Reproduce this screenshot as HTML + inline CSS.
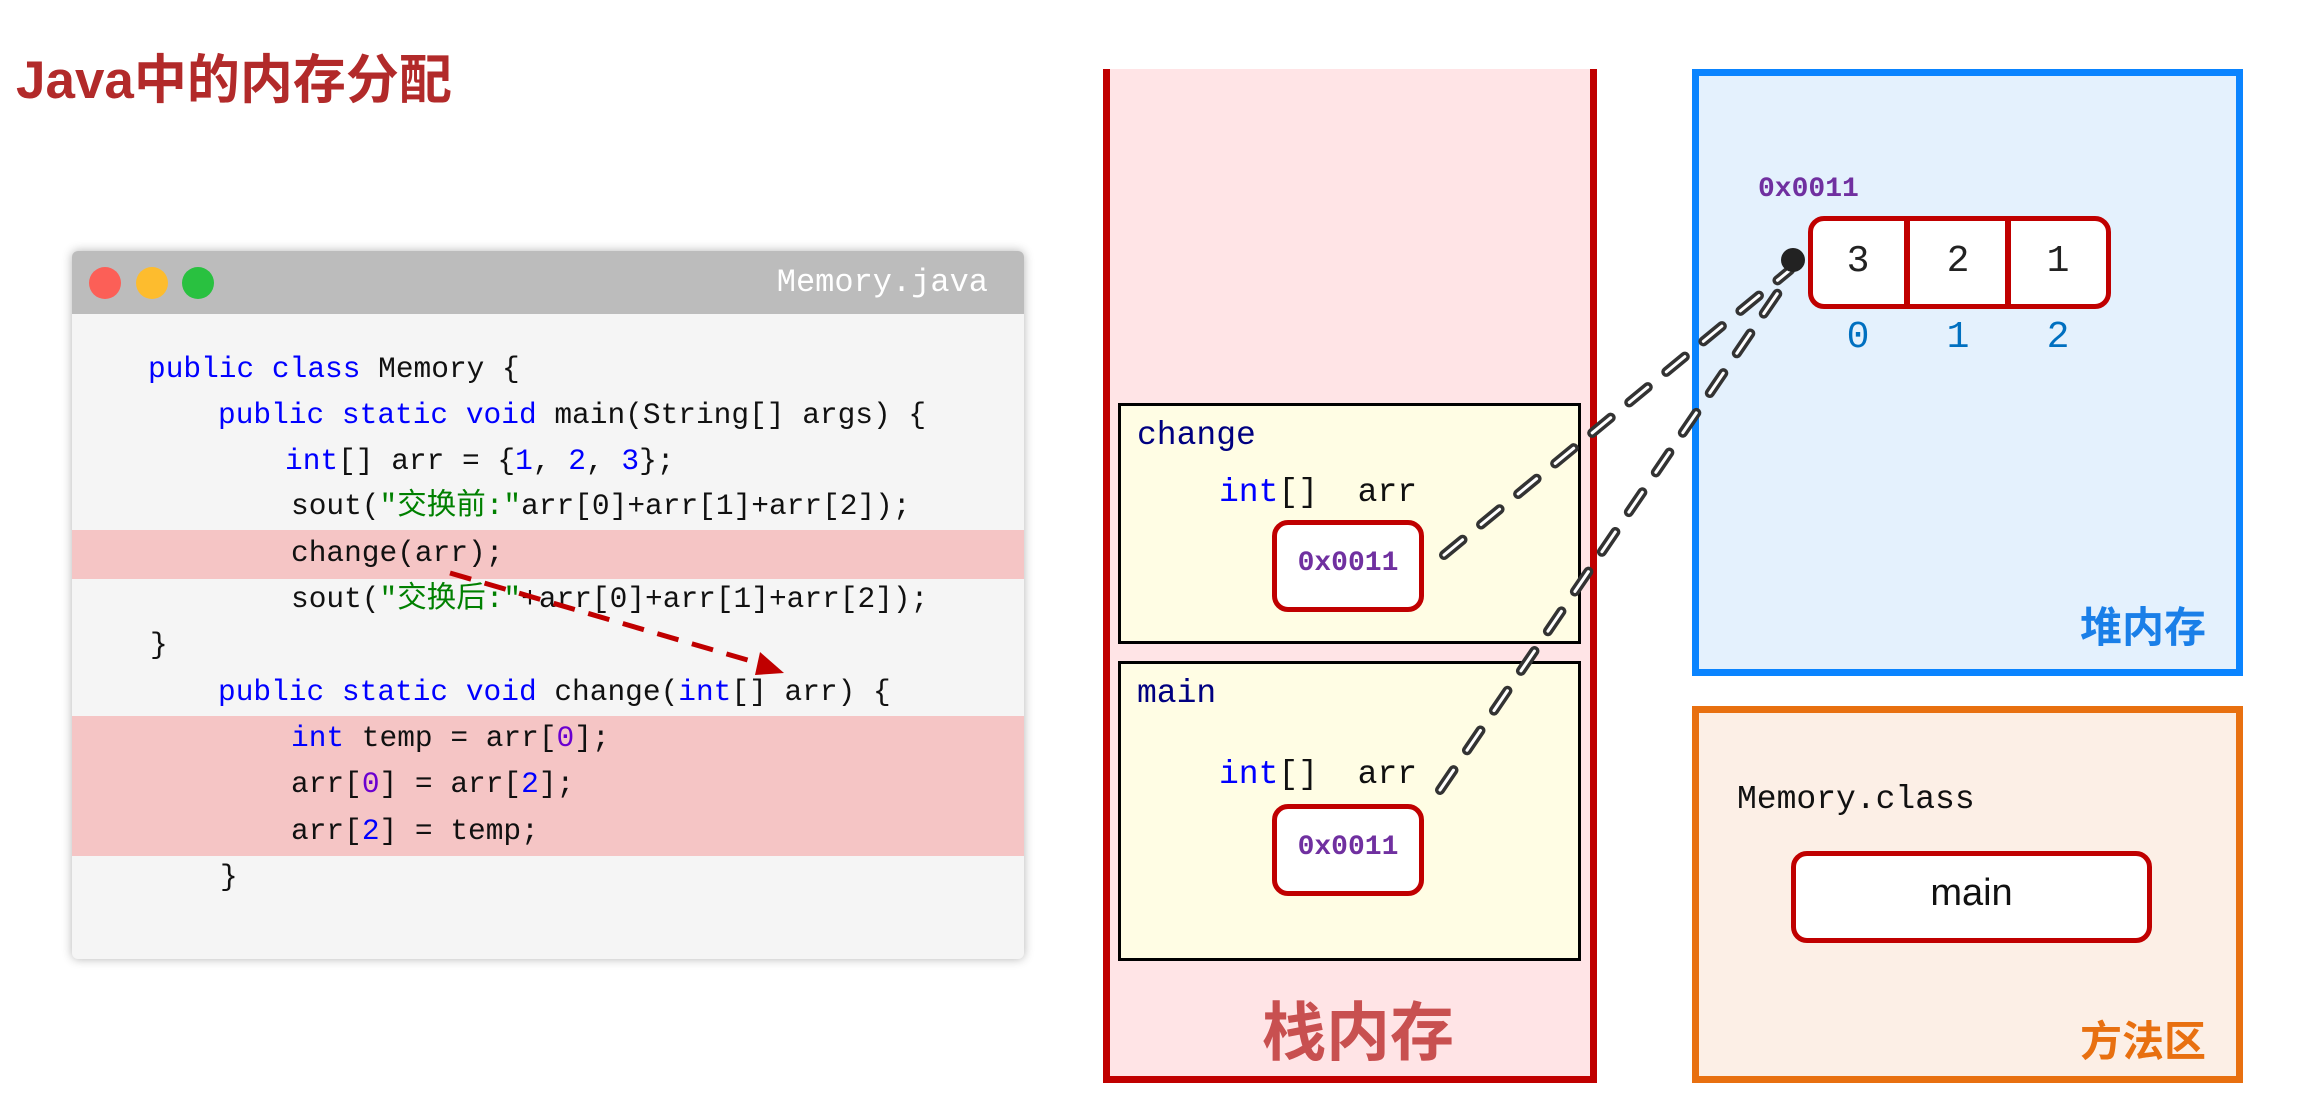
<!DOCTYPE html>
<html><head><meta charset="utf-8">
<style>
*{margin:0;padding:0;box-sizing:border-box}
body{width:2303px;height:1113px;background:#fff;position:relative;overflow:hidden;font-family:"Liberation Sans","Noto Sans CJK SC",sans-serif}
.a{position:absolute;white-space:pre}
.m{font-family:"Liberation Mono","Noto Sans CJK SC",monospace}
.k{color:#0000ff}.s{color:#008000}.p{color:#6a00d0}
.code{font-size:29.5px;color:#111;line-height:36px}
</style></head><body>
<div class="a" style="left:16px;top:38px;font-size:53px;font-weight:bold;color:#b22a2a;font-family:'Liberation Sans','Noto Sans CJK SC',sans-serif">Java中的内存分配</div>

<div class="a" style="left:72px;top:251px;width:952px;height:708px;background:#f5f5f5;box-shadow:0 0 10px rgba(0,0,0,0.3);border-radius:6px;overflow:hidden">
 <div style="position:absolute;left:0;top:0;width:952px;height:63px;background:#bcbcbc"></div>
 <div style="position:absolute;left:17px;top:16px;width:32px;height:32px;border-radius:50%;background:#fc5f57"></div>
 <div style="position:absolute;left:64px;top:16px;width:32px;height:32px;border-radius:50%;background:#fdbc2e"></div>
 <div style="position:absolute;left:110px;top:16px;width:32px;height:32px;border-radius:50%;background:#29c140"></div>
 <div class="m" style="position:absolute;right:36px;top:13px;font-size:32px;color:#fff">Memory.java</div>
 <div style="position:absolute;left:0;top:279px;width:952px;height:49px;background:#f5c5c5"></div>
 <div style="position:absolute;left:0;top:465px;width:952px;height:140px;background:#f5c5c5"></div>
</div>

<div class="a m code" style="left:148px;top:351px"><span class="k">public class</span> Memory {</div>
<div class="a m code" style="left:218px;top:397px"><span class="k">public static void</span> main(String[] args) {</div>
<div class="a m code" style="left:285px;top:443px"><span class="k">int</span>[] arr = {<span class="k">1</span>, <span class="k">2</span>, <span class="k">3</span>};</div>
<div class="a m code" style="left:291px;top:488px">sout(<span class="s">"交换前:"</span>arr[0]+arr[1]+arr[2]);</div>
<div class="a m code" style="left:291px;top:535px">change(arr);</div>
<div class="a m code" style="left:291px;top:581px">sout(<span class="s">"交换后:"</span>+arr[0]+arr[1]+arr[2]);</div>
<div class="a m code" style="left:150px;top:627px">}</div>
<div class="a m code" style="left:218px;top:674px"><span class="k">public static void</span> change(<span class="k">int</span>[] arr) {</div>
<div class="a m code" style="left:291px;top:720px"><span class="k">int</span> temp = arr[<span class="p">0</span>];</div>
<div class="a m code" style="left:291px;top:766px">arr[<span class="p">0</span>] = arr[<span class="k">2</span>];</div>
<div class="a m code" style="left:291px;top:813px">arr[<span class="k">2</span>] = temp;</div>
<div class="a m code" style="left:220px;top:859px">}</div>

<!-- stack -->
<div class="a" style="left:1103px;top:69px;width:494px;height:1014px;background:#ffe4e6;border:7px solid #c00000;border-top:none"></div>
<div class="a" style="left:1118px;top:403px;width:463px;height:241px;background:#fffde4;border:3px solid #000"></div>
<div class="a" style="left:1118px;top:661px;width:463px;height:300px;background:#fffde4;border:3px solid #000"></div>
<div class="a m" style="left:1137px;top:417px;font-size:33px;color:#000080">change</div>
<div class="a m" style="left:1219px;top:474px;font-size:33px;color:#111"><span class="k">int</span>[]  arr</div>
<div class="a" style="left:1272px;top:520px;width:152px;height:92px;background:#fff;border:5px solid #c00000;border-radius:16px"></div>
<div class="a m" style="left:1272px;top:548px;width:152px;text-align:center;font-size:28px;font-weight:bold;color:#7030a0">0x0011</div>
<div class="a m" style="left:1137px;top:675px;font-size:33px;color:#000080">main</div>
<div class="a m" style="left:1219px;top:756px;font-size:33px;color:#111"><span class="k">int</span>[]  arr</div>
<div class="a" style="left:1272px;top:804px;width:152px;height:92px;background:#fff;border:5px solid #c00000;border-radius:16px"></div>
<div class="a m" style="left:1272px;top:832px;width:152px;text-align:center;font-size:28px;font-weight:bold;color:#7030a0">0x0011</div>
<div class="a" style="left:1262px;top:982px;font-size:64px;font-weight:bold;color:#c85050">栈内存</div>

<!-- heap -->
<div class="a" style="left:1692px;top:69px;width:551px;height:607px;background:#e4f1fd;border:7px solid #0a84ff"></div>
<div class="a m" style="left:1758px;top:174px;font-size:28px;font-weight:bold;color:#7030a0">0x0011</div>
<div class="a" style="left:1808px;top:216px;width:303px;height:93px;background:#fff;border:5px solid #c00000;border-radius:16px"></div>
<div class="a" style="left:1904px;top:216px;width:6px;height:93px;background:#c00000"></div>
<div class="a" style="left:2005px;top:216px;width:6px;height:93px;background:#c00000"></div>
<div class="a m" style="left:1808px;top:240px;width:100px;text-align:center;font-size:38px;color:#222">3</div>
<div class="a m" style="left:1908px;top:240px;width:100px;text-align:center;font-size:38px;color:#222">2</div>
<div class="a m" style="left:2008px;top:240px;width:100px;text-align:center;font-size:38px;color:#222">1</div>
<div class="a m" style="left:1808px;top:316px;width:100px;text-align:center;font-size:38px;color:#0070c0">0</div>
<div class="a m" style="left:1908px;top:316px;width:100px;text-align:center;font-size:38px;color:#0070c0">1</div>
<div class="a m" style="left:2008px;top:316px;width:100px;text-align:center;font-size:38px;color:#0070c0">2</div>
<div class="a" style="left:2080px;top:594px;font-size:42px;font-weight:bold;color:#1a7fe8">堆内存</div>

<!-- method area -->
<div class="a" style="left:1692px;top:706px;width:551px;height:377px;background:#fcefe6;border:7px solid #e87010"></div>
<div class="a m" style="left:1737px;top:781px;font-size:33px;color:#111">Memory.class</div>
<div class="a" style="left:1791px;top:851px;width:361px;height:92px;background:#fff;border:5px solid #c00000;border-radius:16px"></div>
<div class="a" style="left:1791px;top:872px;width:361px;text-align:center;font-size:38px;color:#111">main</div>
<div class="a" style="left:2080px;top:1008px;font-size:42px;font-weight:bold;color:#e87010">方法区</div>

<svg class="a" style="left:0;top:0" width="2303" height="1113">
 <line x1="450" y1="573" x2="768" y2="666" stroke="#c00000" stroke-width="5" stroke-dasharray="22 14"/>
 <path d="M760,652 L784,673 L755,675z" fill="#c00000"/>
 <g fill="none" stroke-linecap="round">
  <path d="M1444,555 L1790,270" stroke="#333" stroke-width="10" stroke-dasharray="24 24"/>
  <path d="M1444,555 L1790,270" stroke="#fff" stroke-width="3" stroke-dasharray="24 24"/>
  <path d="M1440,790 L1790,275" stroke="#333" stroke-width="10" stroke-dasharray="24 24"/>
  <path d="M1440,790 L1790,275" stroke="#fff" stroke-width="3" stroke-dasharray="24 24"/>
 </g>
 <circle cx="1793" cy="260" r="12" fill="#222"/>
</svg>
</body></html>
